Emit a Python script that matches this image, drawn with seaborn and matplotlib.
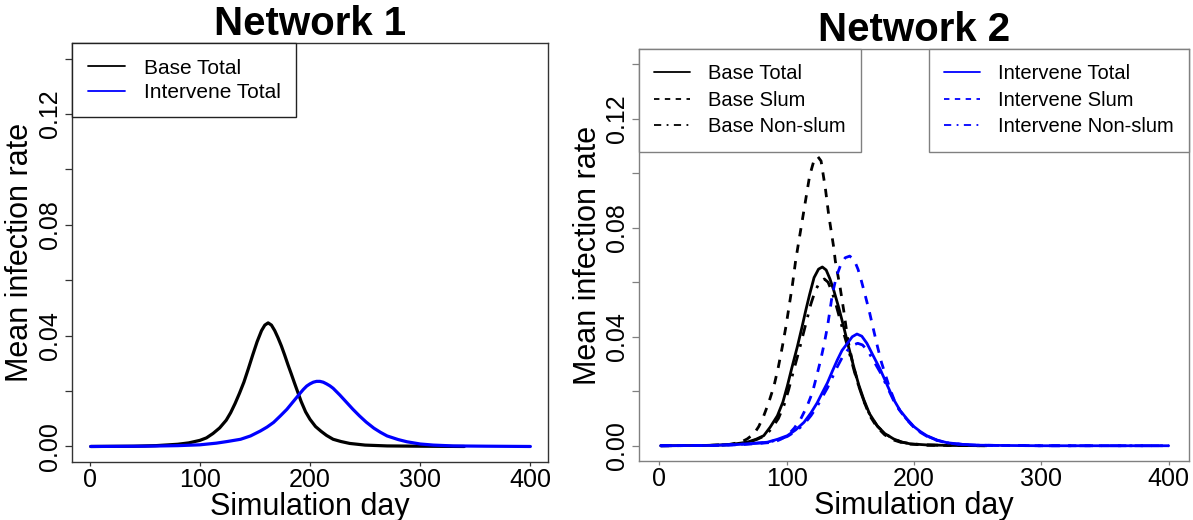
import matplotlib
matplotlib.use('Agg')
import matplotlib.pyplot as plt
from matplotlib.lines import Line2D
import pandas as pd
import seaborn as sns

sns.set_style('ticks')
plt.rcParams['font.family'] = ['Liberation Sans', 'DejaVu Sans']
plt.rcParams['text.color'] = 'black'
plt.rcParams['axes.labelcolor'] = 'black'
plt.rcParams['xtick.color'] = 'black'
plt.rcParams['ytick.color'] = 'black'

# ---- Network 1 ----
n1_base_day = [1, 40, 60, 80, 90, 100, 106, 112, 118, 124, 128, 132, 136, 140, 144, 148, 152, 156,
               159, 162, 165, 168, 171, 174, 177, 180, 183, 186, 189, 192, 196, 200, 205, 210,
               215, 221, 228, 236, 250, 270, 300, 340]
n1_base_rate = [0, 0.0001, 0.0003, 0.0008, 0.0013, 0.0022, 0.0031, 0.0047, 0.0067, 0.0095, 0.0122,
                0.0155, 0.0192, 0.0232, 0.0280, 0.0330, 0.0378, 0.0418, 0.0438, 0.0446, 0.0438,
                0.0418, 0.0392, 0.0363, 0.0330, 0.0295, 0.0262, 0.0228, 0.0195, 0.0162, 0.0125,
                0.0098, 0.0072, 0.0055, 0.0040, 0.0026, 0.0018, 0.0011, 0.0005, 0.0002, 0.0001, 0]
n1_int_day = [1, 50, 80, 100, 115, 125, 137, 146, 155, 161, 167, 173, 179, 185, 191, 194, 197,
              200, 203, 206, 209, 212, 215, 218, 221, 227, 233, 239, 245, 251, 258, 264, 270,
              280, 288, 300, 312, 330, 360, 400]
n1_int_rate = [0, 0.0001, 0.0003, 0.0006, 0.0012, 0.0018, 0.0026, 0.0038, 0.0056, 0.0070, 0.0087,
               0.0110, 0.0134, 0.0163, 0.0192, 0.0206, 0.0218, 0.0226, 0.0232, 0.0235, 0.0235,
               0.0232, 0.0226, 0.0219, 0.0210, 0.0186, 0.0160, 0.0134, 0.0110, 0.0088, 0.0066,
               0.0051, 0.0038, 0.0025, 0.0017, 0.0009, 0.0005, 0.0002, 0.0001, 0]

# ---- Network 2 ----
n2_base_total_day = [1, 35, 55, 69, 76, 82, 87, 92.7, 97, 100.5, 104, 108.4, 112, 115, 118, 121.5,
                     125, 128, 131, 134, 137, 141, 144.8, 148.5, 152.6, 156.5, 160.5, 165, 171,
                     177, 184, 190, 197, 210, 230, 257]
n2_base_total = [0, 0.0001, 0.0004, 0.0013, 0.0024, 0.0037, 0.0068, 0.0110, 0.0160, 0.0219, 0.0285,
                 0.0364, 0.0435, 0.0497, 0.0555, 0.0617, 0.0648, 0.0656, 0.0645, 0.0612, 0.0570,
                 0.0505, 0.0436, 0.0365, 0.0291, 0.0225, 0.0170, 0.0118, 0.0074, 0.0045, 0.0025,
                 0.0014, 0.0007, 0.0003, 0.0001, 0]

n2_base_slum_day = [1, 37, 55, 64, 69, 74.3, 78, 82, 86, 90, 93.5, 96.6, 99.5, 101.8, 104.5, 107,
                    109.5, 112, 115, 118, 121, 124.3, 127, 130.4, 133, 137, 138.2, 142, 145, 148,
                    152, 156.5, 160.5, 165, 171, 177, 184, 190, 197, 210, 230, 257]
n2_base_slum = [0, 0.0001, 0.0005, 0.0013, 0.0025, 0.0044, 0.0070, 0.0110, 0.0160, 0.0219, 0.0290,
                0.0364, 0.0440, 0.0509, 0.0590, 0.0678, 0.0750, 0.0820, 0.0905, 0.0990, 0.1040,
                0.1062, 0.1045, 0.0944, 0.0847, 0.0726, 0.0678, 0.0580, 0.0490, 0.0390, 0.0300,
                0.0220, 0.0165, 0.0112, 0.0068, 0.0040, 0.0021, 0.0012, 0.0006, 0.0002, 0.0001, 0]

n2_base_non_day = [1, 40, 60, 70, 77, 83, 88, 93.5, 98, 101.5, 105, 109.5, 113, 116, 119, 122.5,
                   126, 129.6, 132.5, 135, 138, 141.5, 145, 149, 153, 157, 161, 165.5, 171.5,
                   177.5, 184.5, 190.5, 197.5, 210, 230, 257]
n2_base_non = [0, 0.0001, 0.0005, 0.0012, 0.0024, 0.0037, 0.0062, 0.0100, 0.0150, 0.0205, 0.0268,
               0.0345, 0.0410, 0.0465, 0.0520, 0.0570, 0.0600, 0.0612, 0.0600, 0.0572, 0.0530,
               0.0470, 0.0410, 0.0345, 0.0275, 0.0212, 0.0160, 0.0112, 0.0070, 0.0043, 0.0024,
               0.0013, 0.0007, 0.0003, 0.0001, 0]

n2_int_total_day = [1, 40, 60, 75, 84.8, 93, 100.5, 107, 113.6, 119, 124, 128, 132, 136, 139.8,
                    143.5, 147.7, 151.5, 155.2, 159, 163, 168, 173.6, 179, 184, 189, 194.5, 200,
                    205, 210, 218, 226, 238, 250, 270, 300, 400]
n2_int_total = [0, 0.0001, 0.0004, 0.0009, 0.0013, 0.0024, 0.0037, 0.0058, 0.0086, 0.0120, 0.0158,
                0.0195, 0.0231, 0.0275, 0.0315, 0.0350, 0.0376, 0.0400, 0.0410, 0.0402, 0.0376,
                0.0330, 0.0279, 0.0222, 0.0170, 0.0130, 0.0098, 0.0070, 0.0052, 0.0037, 0.0021,
                0.0011, 0.0005, 0.0002, 0.0001, 0, 0]

n2_int_slum_day = [1, 40, 65, 80, 90, 95.5, 100.5, 106, 111, 116, 120.2, 123.5, 126.7, 129.5, 132,
                   134, 135.9, 139, 142.5, 146, 149.5, 153, 156, 158, 161.5, 164.7, 168, 171.3,
                   174.5, 177.9, 181, 184.3, 189, 194.5, 200, 205, 210, 218, 226, 238, 250, 270,
                   300, 400]
n2_int_slum = [0, 0.0001, 0.0004, 0.0009, 0.0013, 0.0024, 0.0037, 0.0065, 0.0098, 0.0145, 0.0195,
               0.0255, 0.0315, 0.0375, 0.0436, 0.0497, 0.0557, 0.0620, 0.0665, 0.0690, 0.0696,
               0.0682, 0.0648, 0.0617, 0.0555, 0.0497, 0.0430, 0.0364, 0.0305, 0.0255, 0.0210,
               0.0170, 0.0128, 0.0095, 0.0067, 0.0049, 0.0035, 0.0020, 0.0010, 0.0004, 0.0002,
               0.0001, 0, 0]

n2_int_non_day = [1, 40, 60, 75, 85, 93, 100.5, 107, 113.6, 119, 124, 128, 132, 136, 139.8, 143.5,
                  147.7, 151.5, 155.8, 159.5, 163.5, 168.5, 174, 179, 184, 189, 194.5, 200, 205,
                  210, 218, 226, 238, 250, 270, 300, 400]
n2_int_non = [0, 0.0001, 0.0004, 0.0009, 0.0012, 0.0022, 0.0034, 0.0053, 0.0079, 0.0110, 0.0145,
              0.0179, 0.0212, 0.0252, 0.0290, 0.0323, 0.0350, 0.0368, 0.0376, 0.0370, 0.0350,
              0.0310, 0.0265, 0.0215, 0.0166, 0.0127, 0.0096, 0.0068, 0.0050, 0.0036, 0.0020,
              0.0011, 0.0005, 0.0002, 0.0001, 0, 0]

x_ticks = [0, 100, 200, 300, 400]
y_ticks = [0, 0.02, 0.04, 0.06, 0.08, 0.10, 0.12, 0.14]
y_tick_labels = ['0.00', '', '0.04', '', '0.08', '', '0.12', '']

BLUE = '#0000ff'
DASH = (0, (3, 3))
DOTDASH = (0, (4, 3, 1, 3))

fig = plt.figure(figsize=(11.93, 5.2), dpi=100)
ax1 = fig.add_axes([72 / 1193, 1 - 462 / 520, 476 / 1193, 419 / 520])
ax2 = fig.add_axes([639 / 1193, 1 - 461 / 520, 550 / 1193, 412 / 520])


def draw(ax, day, rate, color, ls, lw):
    df = pd.DataFrame({'day': day, 'rate': rate})
    sns.lineplot(data=df, x='day', y='rate', ax=ax, color=color, linestyle=ls,
                 linewidth=lw, estimator=None, sort=False, legend=False)


def style_axes(ax, frame_color, title, title_pad):
    ax.set_xlim(-16, 416)
    ax.set_ylim(-0.0056, 0.1456)
    ax.set_xticks(x_ticks)
    ax.set_xticklabels([str(t) for t in x_ticks])
    ax.set_yticks(y_ticks)
    ax.set_yticklabels(y_tick_labels)
    ax.tick_params(axis='x', direction='out', length=3, width=0.9, color=frame_color,
                   labelsize=18, pad=1)
    ax.tick_params(axis='y', direction='out', length=5, width=0.9, color=frame_color,
                   labelsize=18, pad=2.5, labelrotation=90)
    for lbl in ax.get_yticklabels():
        lbl.set_va('center')
    for sp in ax.spines.values():
        sp.set_visible(True)
        sp.set_color(frame_color)
        sp.set_linewidth(1.0)
    ax.set_xlabel('Simulation day', fontsize=22, labelpad=0)
    ax.set_ylabel('Mean infection rate', fontsize=22, labelpad=1.5)
    ax.set_title(title, fontsize=29, fontweight='bold', pad=title_pad)


def make_legend(ax, styles, labels, loc, edge, size, spacing):
    handles = [Line2D([], [], color=c, linestyle=s, linewidth=1.3) for c, s in styles]
    leg = ax.legend(handles, labels, loc=loc, borderaxespad=0, fancybox=False,
                    edgecolor=edge, framealpha=1, fontsize=size, handlelength=1.8,
                    handletextpad=0.9, borderpad=0.75, labelspacing=spacing)
    leg.get_frame().set_linewidth(1.0)
    return leg


# Network 1
draw(ax1, n1_base_day, n1_base_rate, 'black', '-', 2.3)
draw(ax1, n1_int_day, n1_int_rate, BLUE, '-', 2.3)
style_axes(ax1, '#333333', 'Network 1', 3.6)
make_legend(ax1, [('black', '-'), (BLUE, '-')], ['Base Total', 'Intervene Total'],
            'upper left', '#222222', 15, 0.25)

# Network 2
draw(ax2, n2_base_total_day, n2_base_total, 'black', '-', 2.0)
draw(ax2, n2_base_slum_day, n2_base_slum, 'black', DASH, 2.0)
draw(ax2, n2_base_non_day, n2_base_non, 'black', DOTDASH, 2.0)
draw(ax2, n2_int_total_day, n2_int_total, BLUE, '-', 2.0)
draw(ax2, n2_int_slum_day, n2_int_slum, BLUE, DASH, 2.0)
draw(ax2, n2_int_non_day, n2_int_non, BLUE, DOTDASH, 2.0)
style_axes(ax2, '#808080', 'Network 2', 4.0)
leg_base = make_legend(ax2, [('black', '-'), ('black', DASH), ('black', DOTDASH)],
                       ['Base Total', 'Base Slum', 'Base Non-slum'], 'upper left', '#808080',
                       14.5, 0.38)
ax2.add_artist(leg_base)
make_legend(ax2, [(BLUE, '-'), (BLUE, DASH), (BLUE, DOTDASH)],
            ['Intervene Total', 'Intervene Slum', 'Intervene Non-slum'], 'upper right',
            '#808080', 14.5, 0.38)

fig.savefig('out.png', dpi=100, facecolor='white')
